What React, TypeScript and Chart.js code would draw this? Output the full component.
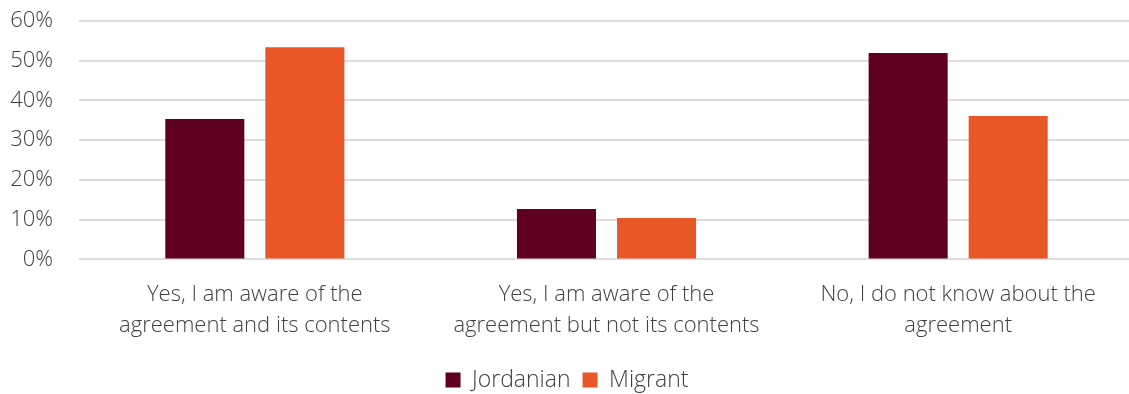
import React, { useEffect, useRef } from "react";
import { Chart, registerables } from "chart.js";

Chart.register(...registerables);

const categories: string[][] = [
  ["Yes, I am aware of the", "agreement and its contents"],
  ["Yes, I am aware of the", "agreement but not its contents"],
  ["No, I do not know about the", "agreement"],
];
const jordanian: number[] = [35.3, 12.7, 51.9];
const migrant: number[] = [53.4, 10.4, 36.1];
const yTicks: number[] = [0, 10, 20, 30, 40, 50, 60];

const FONT = "'Open Sans', sans-serif";
const TEXT = "#404040";

export default function App() {
  const ref = useRef<HTMLCanvasElement | null>(null);
  useEffect(() => {
    if (!ref.current) return;
    const chart = new Chart(ref.current, {
      type: "bar",
      data: {
        labels: categories,
        datasets: [
          {
            label: "Jordanian",
            data: jordanian,
            backgroundColor: "#5f0020",
            barPercentage: 0.79,
            categoryPercentage: 0.569,
          },
          {
            label: "Migrant",
            data: migrant,
            backgroundColor: "#e85727",
            barPercentage: 0.79,
            categoryPercentage: 0.569,
          },
        ],
      },
      options: {
        animation: false,
        responsive: false,
        maintainAspectRatio: false,
        layout: { padding: { top: 0, right: 0, left: 0, bottom: -7.5 } },
        plugins: {
          tooltip: { enabled: false },
          legend: {
            position: "bottom",
            labels: {
              font: { family: FONT, size: 23, weight: 300, lineHeight: 1.0 },
              color: TEXT,
              boxWidth: 15,
              boxHeight: 15,
              padding: 12,
            },
          },
        },
        scales: {
          x: {
            grid: { display: false },
            border: { display: false },
            afterFit: (s: any) => {
              s.height += 3;
            },
            ticks: {
              font: { family: FONT, size: 22, weight: 300, lineHeight: 1.41 },
              color: TEXT,
              padding: 12,
              maxRotation: 0,
              autoSkip: false,
            },
          },
          y: {
            min: 0,
            max: 60,
            afterBuildTicks: (s: any) => {
              s.ticks = yTicks.map((v) => ({ value: v }));
            },
            afterFit: (s: any) => {
              s.width = 79;
            },
            grid: {
              color: "#dcdcdc",
              lineWidth: 2,
              drawTicks: true,
              tickLength: 26,
              tickColor: "rgba(0,0,0,0)",
            },
            border: { display: false },
            ticks: {
              font: { family: FONT, size: 22, weight: 300, lineHeight: 1.9 },
              color: TEXT,
              padding: 0,
              autoSkip: false,
              callback: (v: any) => v + "%",
            },
          },
        },
      },
    });
    return () => chart.destroy();
  }, []);
  return (
    <div style={{ position: "fixed", left: 0, top: 0, width: 1134, height: 394, background: "#fff" }}>
      <canvas ref={ref} width={1134} height={394} style={{ width: 1134, height: 394 }} />
    </div>
  );
}
